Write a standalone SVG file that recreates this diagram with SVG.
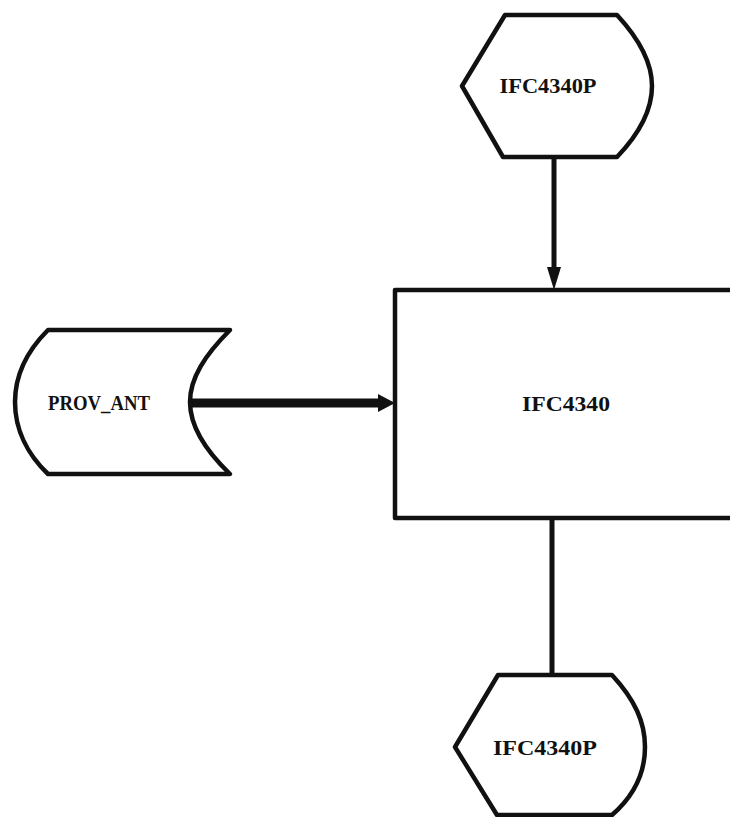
<svg xmlns="http://www.w3.org/2000/svg" width="730" height="817" viewBox="0 0 730 817">
<style>
.shape{fill:#fff;stroke:#111;stroke-width:4.5;stroke-linejoin:round}
.lbl{font-family:"Liberation Serif",serif;font-weight:bold;font-size:21px;fill:#111;text-anchor:middle}
.conn{stroke:#111;fill:none}
.head{fill:#111}
</style>
<rect width="730" height="817" fill="#fff"/>
<g id="display-top">
<path class="shape" d="M505,15 L617,15 C642,42 652,65 652,86 C652,110 640,133 617,157 L503,157 L462,86 Z"/>
<text class="lbl" x="548" y="93" textLength="97" lengthAdjust="spacingAndGlyphs">IFC4340P</text>
</g>
<g id="process">
<rect class="shape" x="395" y="290" width="345" height="228"/>
<text class="lbl" x="566" y="411" textLength="88" lengthAdjust="spacingAndGlyphs">IFC4340</text>
</g>
<g id="storage">
<path class="shape" d="M48,330 L230,330 C205,355 190,378 190,402 C190,426 205,450 230,474 L48,474 C28,455 15,430 15,402 C15,374 28,350 48,330 Z"/>
<text class="lbl" x="99" y="410" textLength="102" lengthAdjust="spacingAndGlyphs">PROV_ANT</text>
</g>
<g id="display-bottom">
<path class="shape" d="M498,675 L612,675 C635,700 645,722 645,747 C645,772 635,795 612,815 L497,815 L455,747 Z"/>
<text class="lbl" x="545" y="755" textLength="104" lengthAdjust="spacingAndGlyphs">IFC4340P</text>
</g>
<g id="connectors">
<line class="conn" x1="554" y1="157" x2="554" y2="272" stroke-width="5"/>
<polygon class="head" points="547,267 561,267 554,290"/>
<line class="conn" x1="190" y1="403" x2="382" y2="403" stroke-width="9"/>
<polygon class="head" points="378,394 378,412 395,403"/>
<line class="conn" x1="552" y1="518" x2="552" y2="675" stroke-width="5"/>
</g>
</svg>
